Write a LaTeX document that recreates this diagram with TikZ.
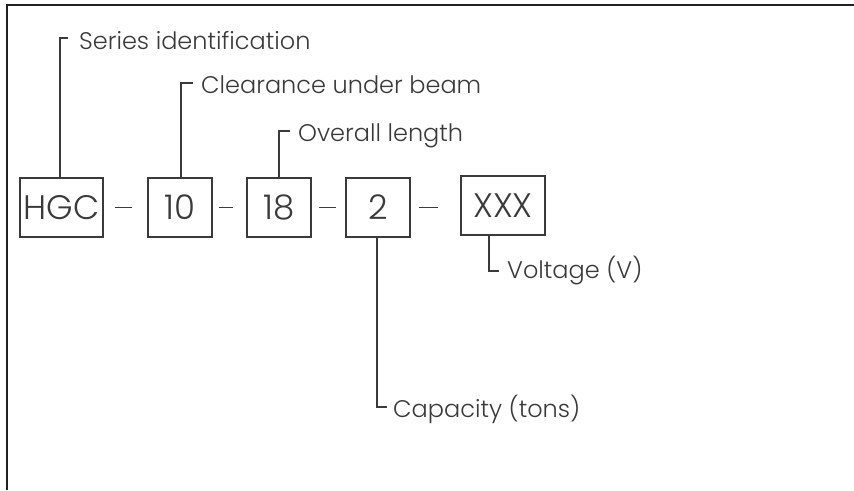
\documentclass[tikz,border=0pt]{standalone}
\usepackage{fontspec}
\setmainfont{Poppins Light}
\definecolor{ink}{HTML}{3A3A3A}
\definecolor{frame}{HTML}{222222}
\begin{document}
\begin{tikzpicture}[x=1pt,y=-1pt,
  code/.style={draw=ink, line width=1.3pt, text=ink, inner sep=0pt,
    minimum height=59pt, font=\fontsize{34}{34}\selectfont},
  lab/.style={anchor=base west, inner sep=0pt, text=ink, font=\fontsize{24}{24}\selectfont},
  lead/.style={draw=ink, line width=1.3pt},
  sep/.style={draw=ink, line width=1.3pt}]
\useasboundingbox (0,0) rectangle (854,490);
\draw[frame, line width=2.2pt] (7,490) -- (7,5) -- (854,5);
% boxes
\node[code, minimum width=83pt] (hgc) at (61.5,207.5) {HGC};
\node[code, minimum width=64pt] (ten) at (180,207.5) {10};
\node[code, minimum width=64pt] (eig) at (279,207.5) {18};
\node[code, minimum width=64pt] (two) at (378,207.5) {2};
\node[code, minimum width=84pt] (xxx) at (503,205.5) {XXX};
% separators
\draw[sep] ([xshift=11pt]hgc.east) -- ([xshift=-15pt]ten.west);
\draw[sep] ([xshift=6pt]ten.east) -- ([xshift=-13pt]eig.west);
\draw[sep] ([xshift=7pt]eig.east) -- ([xshift=-9pt]two.west);
\draw[sep] ([xshift=8pt]two.east) -- ([xshift=-22pt,yshift=-2pt]xxx.west);
% labels
\node[lab] (l1) at (79,49) {Series identification};
\node[lab] (l2) at (201,93) {Clearance under beam};
\node[lab] (l3) at (298,141) {Overall length};
\node[lab] (l4) at (507,278) {Voltage (V)};
\node[lab] (l5) at (393,417) {Capacity (tons)};
% leaders
\draw[lead] ([xshift=-1.5pt]hgc.north) |- ([xshift=-11pt,yshift=11pt]l1.base west);
\draw[lead] ([xshift=1pt]ten.north) |- ([xshift=-8pt,yshift=10pt]l2.base west);
\draw[lead] (eig.north) |- ([xshift=-8pt,yshift=10pt]l3.base west);
\draw[lead] ([xshift=-14pt]xxx.south) |- ([xshift=-8pt,yshift=7pt]l4.base west);
\draw[lead] ([xshift=-1pt]two.south) |- ([xshift=-6pt,yshift=10pt]l5.base west);
\end{tikzpicture}
\end{document}
